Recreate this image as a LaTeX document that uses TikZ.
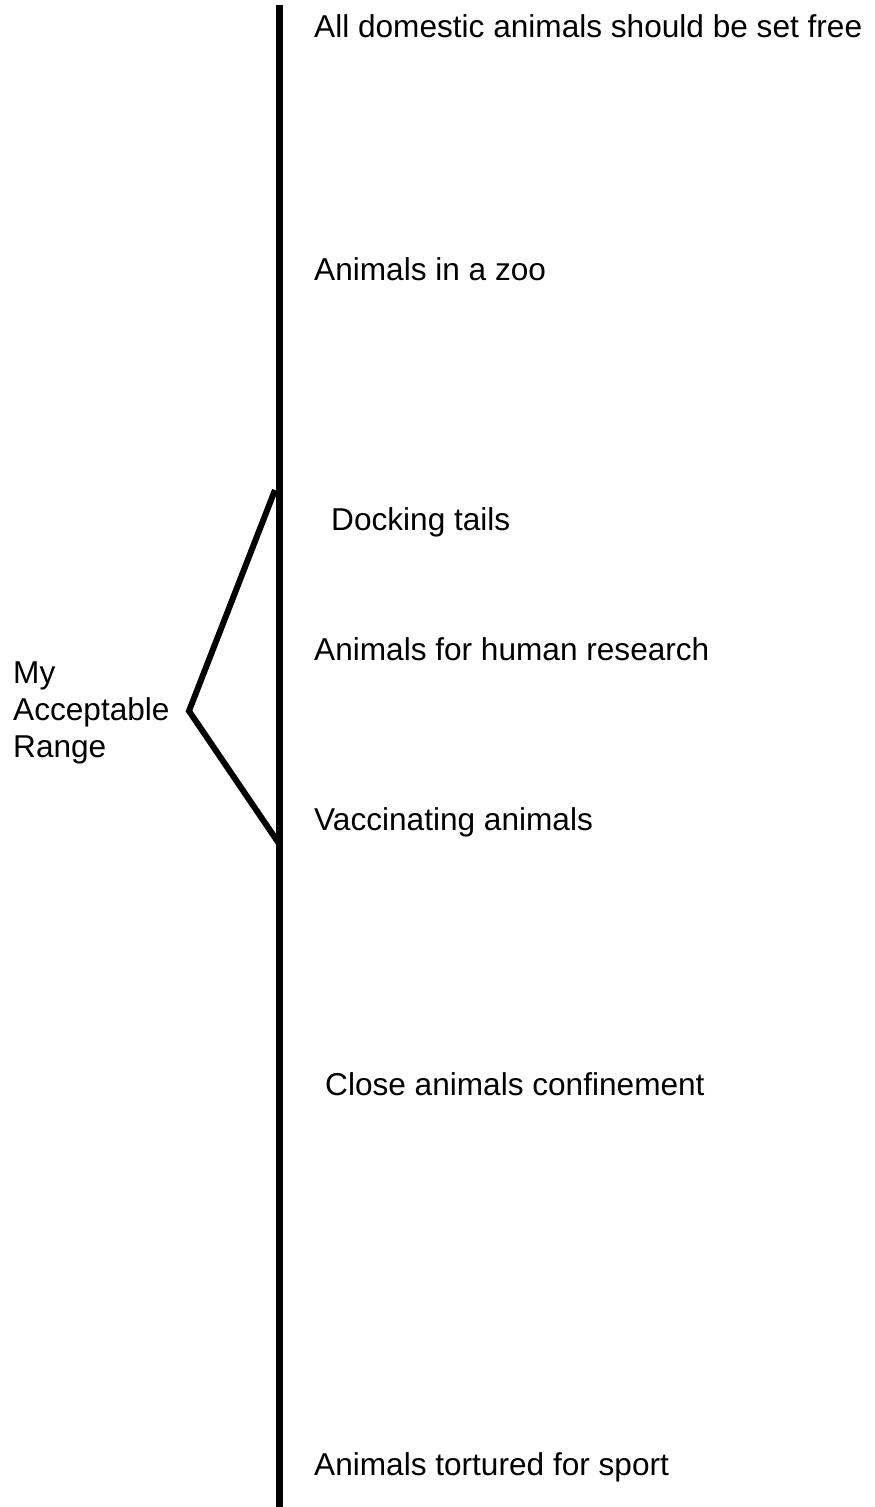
\documentclass[tikz,border=0pt]{standalone}
\usepackage{fontspec}
\setmainfont{Liberation Sans}
\begin{document}
\begin{tikzpicture}[x=1pt,y=-1pt,
  lbl/.style={anchor=base west,inner sep=0pt,font=\fontsize{31.6}{37}\selectfont},
  axis/.style={line width=7pt},
  brk/.style={line width=6pt,line join=miter}]
\useasboundingbox (0,0) rectangle (875,1507);
\coordinate (top) at (279,5);
\coordinate (bot) at (279,1507);
\draw[axis] (top) -- (bot);
\coordinate (b1) at (275,490);
\coordinate (b2) at (189,711);
\coordinate (b3) at (280,845);
\draw[brk] (b1) -- (b2) -- (b3);
\node[lbl] (t1) at (314,37) {All domestic animals should be set free};
\node[lbl] (t2) at (314,280) {Animals in a zoo};
\node[lbl] (t3) at (331,530) {Docking tails};
\node[lbl] (t4) at (314,660) {Animals for human research};
\node[lbl] (t5) at (314,830) {Vaccinating animals};
\node[lbl] (t6) at (325,1095) {Close animals confinement};
\node[lbl] (t7) at (314,1475) {Animals tortured for sport};
\node[lbl,align=left] (r) at (13,757) {My\\Acceptable\\Range};
\end{tikzpicture}
\end{document}
